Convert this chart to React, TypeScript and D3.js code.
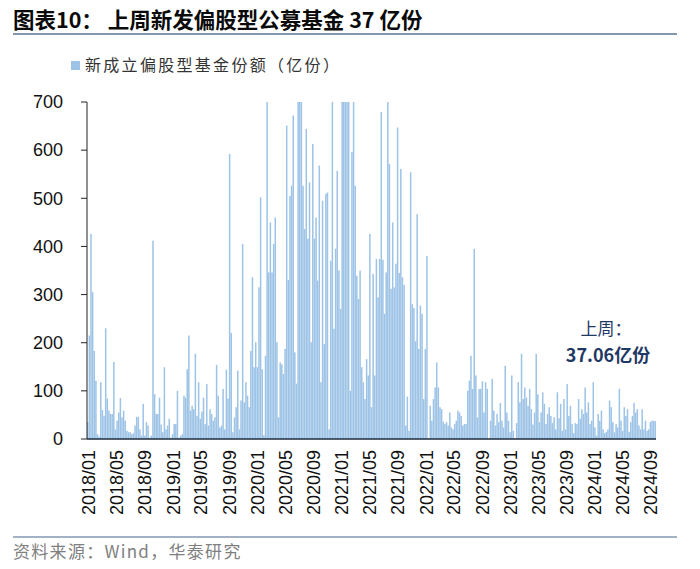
import React from "react";
import * as d3 from "d3";

// Weekly new equity-fund shares (亿份), 2018/01 → 2024/09
const seg2018: number[] = [35, 215, 426, 305, 183, 121, 10, 5, 118, 60, 48, 230, 84, 59, 52, 52, 160, 20, 38, 55, 85, 45, 59, 38, 17, 14, 14, 10, 12, 28, 46, 46, 20, 7, 73, 7, 35, 28, 3, 7, 412, 93, 52, 52, 86, 30, 14, 149];
const seg2019: number[] = [20, 28, 42, 3, 10, 31, 31, 100, 3, 7, 10, 90, 86, 145, 215, 59, 69, 62, 177, 48, 118, 42, 57, 86, 31, 114, 28, 62, 52, 38, 45, 154, 90, 24, 28, 104, 20, 144, 84, 592, 220, 14, 45, 66, 142, 20];
const seg2020a: number[] = [80, 405, 76, 118, 90, 66, 183, 336, 149, 201, 149, 315, 502, 145, 8, 173, 750, 346, 450, 346, 405, 460, 201, 45, 159, 155, 135, 187, 651, 330, 505, 526, 672, 180, 115, 800, 800, 800, 526, 436, 644, 416, 533, 201, 613, 416];
const seg2020b: number[] = [460, 329, 568, 118, 495, 197, 509, 512, 20, 370, 750, 229, 395, 557, 350, 270, 800, 800, 800, 800, 800, 100, 596, 750, 526, 339, 291, 350, 149, 118, 83, 166, 132, 426, 66, 343, 132, 374, 294, 374, 679, 372, 260, 346, 750, 571];
const seg2021: number[] = [312, 450, 315, 364, 647, 345, 561, 336, 320, 28, 88, 17, 554, 280, 272, 203, 467, 187, 277, 260, 83, 187, 380, 0, 69, 38, 83, 107, 159, 107, 66, 62, 36, 31, 35, 28, 55, 24, 20, 31, 38, 59, 55, 48, 28, 31];
const seg2022: number[] = [31, 100, 121, 173, 104, 395, 132, 45, 104, 104, 120, 55, 118, 104, 0, 38, 125, 59, 28, 52, 35, 75, 38, 24, 152, 55, 38, 14, 132, 17, 0, 33, 118, 76, 177, 83, 107, 86, 69, 104, 62, 30, 55, 177, 93, 35];
const seg2023: number[] = [55, 97, 73, 31, 52, 66, 48, 33, 45, 20, 97, 43, 73, 17, 83, 20, 114, 48, 69, 31, 12, 33, 31, 83, 42, 62, 52, 107, 55, 76, 31, 38, 118, 24, 7, 52, 38, 59, 20, 12, 15, 20, 80, 66, 35, 14];
const seg2024: number[] = [31, 24, 104, 38, 17, 66, 48, 62, 15, 35, 48, 75, 55, 62, 28, 20, 62, 20, 38, 17, 20, 35, 38, 38, 37.06];

const values: number[] = [...seg2018, ...seg2019, ...seg2020a, ...seg2020b, ...seg2021, ...seg2022, ...seg2023, ...seg2024];

const xTickLabels: string[] = [
  "2018/01", "2018/05", "2018/09", "2019/01", "2019/05", "2019/09", "2020/01", "2020/05", "2020/09",
  "2021/01", "2021/05", "2021/09", "2022/01", "2022/05", "2022/09", "2023/01", "2023/05", "2023/09",
  "2024/01", "2024/05", "2024/09",
];
const yTicks: number[] = [0, 100, 200, 300, 400, 500, 600, 700];

const titleText = "图表10：  上周新发偏股型公募基金 37 亿份";
const legendText = "新成立偏股型基金份额（亿份）";
const noteLine1 = "上周：";
const noteLine2 = "37.06亿份";
const sourceText = "资料来源：Wind，华泰研究";

const W = 700;
const H = 569;
const left = 87;
const right = 656;
const top = 102;
const bottom = 439;
const barColor = "#9DC3E6";
const cjk = "'Noto Sans CJK SC', 'Liberation Sans', sans-serif";
const latin = "'Liberation Sans', Arial, sans-serif";

export default function App() {
  const x = d3
    .scaleBand<number>()
    .domain(values.map((_, i) => i))
    .range([left, right])
    .paddingInner(0.08);
  const y = d3.scaleLinear().domain([0, 700]).range([bottom, top]);
  const t = d3
    .scaleTime()
    .domain([new Date(2018, 0, 1), new Date(2024, 9, 1)])
    .range([left, right]);

  return (
    <svg
      width={W}
      height={H}
      style={{ position: "absolute", left: 0, top: 0, background: "#fff" }}
    >
      <defs>
        <clipPath id="plot">
          <rect x={left} y={top} width={right - left} height={bottom - top} />
        </clipPath>
      </defs>
      {/* Title */}
      <text x={13} y={28} fontFamily={cjk} fontWeight={700} fontSize={21.5} fill="#0a0a0a">
        {titleText}
      </text>
      <line x1={13} x2={677} y1={34} y2={34} stroke="#8497B0" strokeWidth={2} />

      {/* Legend */}
      <rect x={71} y={61} width={9} height={9} fill={barColor} />
      <text x={85} y={71} fontFamily={cjk} fontSize={16} letterSpacing={2.3} fill="#333">
        {legendText}
      </text>

      {/* Bars */}
      <g clipPath="url(#plot)">
        {values.map((v, i) => (
          <rect
            key={i}
            x={x(i)}
            y={y(v)}
            width={x.bandwidth()}
            height={bottom - y(v)}
            fill={barColor}
          />
        ))}
      </g>

      {/* Y axis */}
      <line x1={left} x2={left} y1={top} y2={bottom} stroke="#222" strokeWidth={1} />
      {yTicks.map((v) => (
        <g key={v}>
          <line x1={left - 6} x2={left} y1={y(v)} y2={y(v)} stroke="#222" strokeWidth={1} />
          <text
            x={63}
            y={y(v)}
            dy="0.35em"
            textAnchor="end"
            fontFamily={latin}
            fontSize={18}
            fill="#111"
          >
            {v}
          </text>
        </g>
      ))}

      {/* X axis */}
      <line x1={left} x2={right} y1={bottom} y2={bottom} stroke="#1F2D3D" strokeWidth={1.5} />
      {xTickLabels.map((lab) => {
        const [yy, mm] = lab.split("/").map(Number);
        const px = t(new Date(yy, mm - 1, 1)) + 2;
        return (
          <text
            key={lab}
            transform={`translate(${px},${450}) rotate(-90)`}
            textAnchor="end"
            dy="0.35em"
            fontFamily={latin}
            fontSize={18}
            fill="#111"
          >
            {lab}
          </text>
        );
      })}

      {/* Annotation */}
      <text x={606} y={335} textAnchor="middle" fontFamily={cjk} fontSize={17} fill="#1F3864">
        {noteLine1}
      </text>
      <text x={608} y={362} textAnchor="middle" fontFamily={cjk} fontWeight={700} fontSize={18} fill="#1F3864">
        {noteLine2}
      </text>

      {/* Footer */}
      <line x1={13} x2={677} y1={537} y2={537} stroke="#8497B0" strokeWidth={1.5} />
      <text x={13} y={558} fontFamily={cjk} fontSize={17} letterSpacing={1.3} fill="#7F7F7F">
        {sourceText}
      </text>
    </svg>
  );
}
